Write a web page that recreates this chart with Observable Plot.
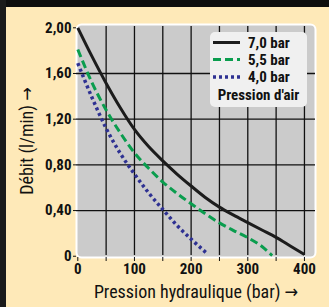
<!DOCTYPE html>
<html>
<head>
<meta charset="utf-8">
<script src="https://cdn.jsdelivr.net/npm/d3@7"></script>
<script src="https://cdn.jsdelivr.net/npm/@observablehq/plot@0.6"></script>
<style>
  html, body { margin: 0; padding: 0; overflow: hidden; background: #fee9b8; }
  body { width: 329px; height: 307px; position: relative;
         font-family: "Roboto Condensed", "Liberation Sans Narrow", "DejaVu Sans Condensed", sans-serif; }
  #topband { position: absolute; left: 0; top: 0; width: 329px; height: 7px; background: #0d0d0d; }
  #leftband { position: absolute; left: 0; top: 0; width: 6px; height: 307px; background: #1a1a1a; }
  #chart { position: absolute; left: 0; top: 0; }
  #legend { position: absolute; left: 0; top: 0; pointer-events: none; }
</style>
</head>
<body>
<div id="chart"></div>
<div id="topband"></div>
<div id="leftband"></div>
<svg id="legend" width="329" height="307"></svg>
<script>
// Data
const pressure70 = [0, 25, 50, 75, 100, 125, 150, 175, 200, 225, 250, 275, 300, 325, 350, 375, 400];
const flow70     = [2.00, 1.75, 1.515, 1.30, 1.11, 0.96, 0.835, 0.72, 0.615, 0.515, 0.43, 0.36, 0.295, 0.23, 0.165, 0.09, 0.015];
const pressure55 = [0, 25, 50, 75, 100, 125, 150, 175, 200, 225, 250, 275, 300, 325, 343];
const flow55     = [1.81, 1.52, 1.28, 1.08, 0.905, 0.77, 0.65, 0.55, 0.46, 0.372, 0.292, 0.225, 0.163, 0.085, 0.006];
const pressure40 = [0, 25, 50, 75, 100, 125, 150, 175, 200, 229];
const flow40     = [1.69, 1.39, 1.12, 0.90, 0.72, 0.555, 0.41, 0.27, 0.15, 0.02];

const seriesNames = ["7,0 bar", "5,5 bar", "4,0 bar"];
const legendTitle = "Pression d'air";
const xTicks = [0, 50, 100, 150, 200, 250, 300, 350, 400];
const xGrid = [50, 100, 150, 200, 250, 300, 350, 400];
const yTicks = [0, 0.4, 0.8, 1.2, 1.6, 2.0];
const yGrid = [0.4, 0.8, 1.2, 1.6];
const xTitle = "Pression hydraulique (bar) →";
const yTitle = "Débit (l/min) →";

const colors = ["#1c1c1c", "#0a9d4e", "#2e3192"];
const dashes = [null, "8,4", "3,3"];
const widths = [3, 3, 3.5];

const mk = (ps, fs) => ps.map((p, i) => ({p, q: fs[i]}));
const series = [mk(pressure70, flow70), mk(pressure55, flow55), mk(pressure40, flow40)];

const font = '"Roboto Condensed", "Liberation Sans Narrow", "DejaVu Sans Condensed", sans-serif';

const plot = Plot.plot({
  width: 329, height: 307,
  marginLeft: 76, marginRight: 14, marginTop: 24, marginBottom: 50,
  x: {domain: [-2.3, 419.5]},
  y: {domain: [-0.011, 2.029]},
  style: {background: "transparent", fontFamily: font, overflow: "visible", color: "#111"},
  marks: [
    Plot.frame({fill: "#cbcbcb", stroke: "white", strokeWidth: 2, rx: 5}),
    Plot.ruleX(xGrid, {stroke: "#111", strokeWidth: 1.3, insetTop: 2, insetBottom: 2}),
    Plot.ruleY(yGrid, {stroke: "#111", strokeWidth: 1.3}),
    ...series.slice().reverse().map((d, j) => {
      const i = series.length - 1 - j;
      return Plot.line(d, {x: "p", y: "q", stroke: colors[i], strokeWidth: widths[i],
        strokeDasharray: dashes[i], strokeLinecap: "butt", curve: "monotone-x"});
    }),
    Plot.axisY(yTicks, {
      tickSize: 3, tickPadding: 2, fontSize: 15, fontWeight: "bold", label: null,
      tickFormat: d => d === 0 ? "0" : d3.format(".2f")(d).replace(".", ",")
    }),
    Plot.axisX(xTicks, {
      tickSize: 4, tickPadding: 2, fontSize: 15, fontWeight: "bold", label: null,
      tickFormat: d => d % 100 === 0 ? String(d) : ""
    }),
    Plot.text([xTitle], {frameAnchor: "bottom", dy: 40, fontSize: 18, text: d => d, fill: "#111"}),
    Plot.text([yTitle], {frameAnchor: "left", dx: -49, rotate: -90, textAnchor: "middle",
      fontSize: 18, text: d => d, fill: "#111"})
  ]
});
document.getElementById("chart").appendChild(plot);

// Legend (overlay)
const lg = d3.select("#legend");
lg.append("rect").attr("x", 210).attr("y", 32).attr("width", 97).attr("height", 75)
  .attr("rx", 5).attr("fill", "#f0f0f0");
const rowsY = [42.5, 59.5, 77];
seriesNames.forEach((name, i) => {
  lg.append("line").attr("x1", 213).attr("x2", 240).attr("y1", rowsY[i]).attr("y2", rowsY[i])
    .attr("stroke", colors[i]).attr("stroke-width", widths[i])
    .attr("stroke-dasharray", dashes[i]).attr("stroke-linecap", "butt");
  lg.append("text").attr("x", 248).attr("y", rowsY[i]).attr("dy", "0.35em")
    .attr("font-family", font).attr("font-size", 15).attr("font-weight", "bold").attr("fill", "#111")
    .text(name);
});
lg.append("text").attr("x", 258.5).attr("y", 95).attr("dy", "0.35em").attr("text-anchor", "middle")
  .attr("font-family", font).attr("font-size", 15).attr("font-weight", "bold").attr("fill", "#111")
  .text(legendTitle);
</script>
</body>
</html>
